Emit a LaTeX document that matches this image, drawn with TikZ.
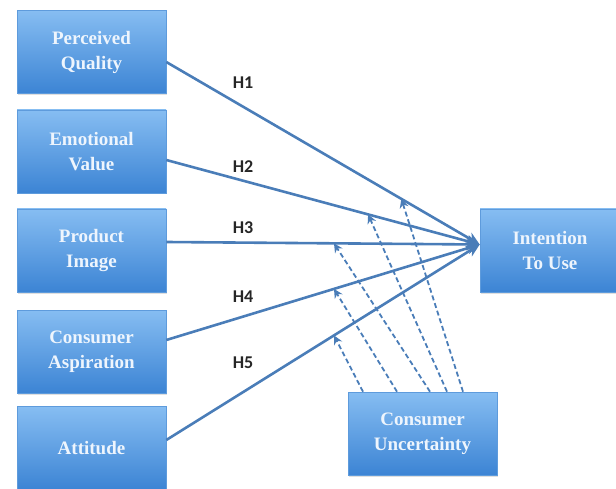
\documentclass[tikz,border=0pt]{standalone}
\usepackage{fontspec}
\setmainfont{Liberation Serif}
\newfontfamily\lblfont{Carlito}
\usetikzlibrary{arrows.meta,calc,shadows}
\definecolor{boxtop}{HTML}{86BDF2}
\definecolor{boxbot}{HTML}{3C84D4}
\definecolor{boxedge}{HTML}{5E9BDC}
\definecolor{linec}{HTML}{4A7DB8}
\definecolor{txtc}{HTML}{EEF5FD}
\begin{document}
\begin{tikzpicture}[x=1pt,y=-1pt,
  boxnode/.style={rectangle, minimum width=149pt, minimum height=83pt, inner sep=0pt,
    top color=boxtop, bottom color=boxbot, draw=boxedge, line width=0.6pt,
    drop shadow={shadow xshift=1pt, shadow yshift=-1.5pt, opacity=0.25},
    text=txtc, align=center, font=\bfseries\fontsize{19}{25}\selectfont},
  hyp/.style={draw=linec, line width=2.6pt, -{Stealth[length=13pt,width=12pt]}},
  mod/.style={draw=linec, line width=1.8pt, dash pattern=on 5pt off 3pt, -{Stealth[length=9pt,width=9pt]}},
  hlabel/.style={font=\lblfont\bfseries\fontsize{18}{20}\selectfont, text=black!85}]
\useasboundingbox (0,0) rectangle (616,489);
\node[boxnode] (pq) at (91.5,52) {Perceived\\Quality};
\node[boxnode] (ev) at (91.5,151.5) {Emotional\\Value};
\node[boxnode] (pi) at (91.5,250.5) {Product\\Image};
\node[boxnode] (ca) at (91.5,351.5) {Consumer\\Aspiration};
\node[boxnode] (at) at (91.5,448) {Attitude};
\node[boxnode, minimum width=140pt] (itu) at (550,250.5) {Intention\\To Use};
\node[boxnode] (cu) at (422.5,433.5) {Consumer\\Uncertainty};
\coordinate (t) at ([yshift=6pt]itu.west);
\coordinate (s1) at ([yshift=-10pt]pq.east);
\coordinate (s2) at ([yshift=-8.5pt]ev.east);
\coordinate (s3) at ([yshift=8.5pt]pi.east);
\coordinate (s4) at ([yshift=11.5pt]ca.east);
\coordinate (s5) at ([yshift=8pt]at.east);
\draw[hyp] (s1) -- (t);
\draw[hyp] (s2) -- (t);
\draw[hyp] (s3) -- (t);
\draw[hyp] (s4) -- (t);
\draw[hyp] (s5) -- (t);
\node[hlabel] (h1) at (243,83) {H1};
\node[hlabel] (h2) at (243,167) {H2};
\node[hlabel] (h3) at (243,228) {H3};
\node[hlabel] (h4) at (243,297) {H4};
\node[hlabel] (h5) at (243,363) {H5};
\coordinate (e1) at ($(s1)!0.75!(t)$);
\coordinate (e2) at ($(s2)!0.644!(t)$);
\coordinate (e3) at ($(s3)!0.535!(t)$);
\coordinate (e4) at ($(s4)!0.535!(t)$);
\coordinate (e5) at ($(s5)!0.535!(t)$);
\draw[mod] ([xshift=40.5pt]cu.north) -- (e1);
\draw[mod] ([xshift=24.5pt]cu.north) -- (e2);
\draw[mod] ([xshift=7.5pt]cu.north) -- (e3);
\draw[mod] ([xshift=-25.5pt]cu.north) -- (e4);
\draw[mod] ([xshift=-59.5pt]cu.north) -- (e5);
\end{tikzpicture}
\end{document}
